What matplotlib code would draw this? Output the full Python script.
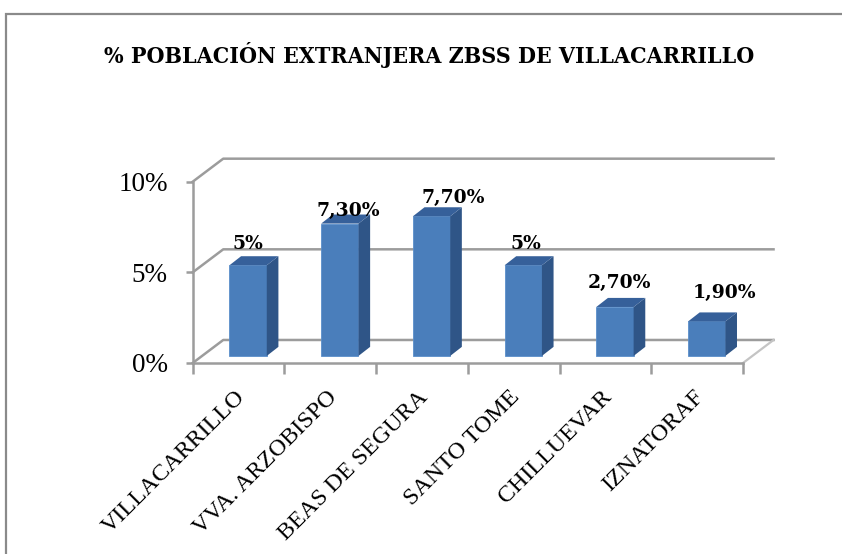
import matplotlib
matplotlib.use('Agg')
from matplotlib import pyplot as plt

# data
categories = ['VILLACARRILLO', 'VVA. ARZOBISPO', 'BEAS DE SEGURA', 'SANTO TOME', 'CHILLUEVAR', 'IZNATORAF']
values = [5, 7.3, 7.7, 5, 2.7, 1.9]
value_labels = ['5%', '7,30%', '7,70%', '5%', '2,70%', '1,90%']
y_ticks = [0, 5, 10]
y_tick_labels = ['0%', '5%', '10%']
title = '% POBLACIÓN EXTRANJERA ZBSS DE VILLACARRILLO'

# where each value label sits relative to its bar top centre, in points
label_dx = [0, 6, 15.5, 2, 3, 13]
label_dy = [15.5, 8.8, 13.3, 15, 17.3, 20.8]

W, H = 842, 554
GRID = '#9c9c9c'

fig = plt.figure(figsize=(W / 100, H / 100), dpi=100)

# frame of the chart, runs off the right and bottom of the picture
bg = fig.add_axes([0, 0, 1, 1])
bg.set_xlim(0, W)
bg.set_ylim(H, 0)
bg.axis('off')
bg.plot([6, 6, W], [H, 14, 14], color='#8a8a8a', lw=1.6, solid_joinstyle='miter')
bg.text(429.5, 55, title, ha='center', va='center', fontsize=16.6, fontweight='bold',
        family='DejaVu Serif', stretch='condensed', color='black')

# front plane of the 3d box: x 192.7-743, y 363-181.7 px
ax = fig.add_axes([192.7 / W, 1 - 363 / H, 550.3 / W, 181.3 / H])
ax.set_xlim(0, 6)
ax.set_ylim(0, 10)
ax.patch.set_visible(False)
for s in ['top', 'right']:
    ax.spines[s].set_visible(False)
for s in ['left', 'bottom']:
    ax.spines[s].set_color(GRID)
    ax.spines[s].set_linewidth(1.8)

# depth of the box, in data units
box_dx = 0.333
box_dy = 1.27

# walls
for t in y_ticks:
    ax.plot([0, box_dx, 6 + box_dx], [t, t + box_dy, t + box_dy], color=GRID, lw=1.8,
            clip_on=False, zorder=1)
ax.plot([6, 6 + box_dx], [0, box_dy], color='#c4c4c4', lw=1.6, clip_on=False, zorder=1)

# bars
bar_w = 0.407
bar_dx = 0.127
bar_dy = 0.5
floor = 0.39
shift = 0.104
xs = [i + 0.5 + shift for i in range(len(values))]

ax.bar(xs, values, width=bar_w, bottom=floor, color='#4a7ebb', edgecolor='#5b8fcb', lw=0.6,
       clip_on=False, zorder=3)
for x, v in zip(xs, values):
    l = x - bar_w / 2
    r = x + bar_w / 2
    top = v + floor
    ax.fill([r, r + bar_dx, r + bar_dx, r], [floor, floor + bar_dy, top + bar_dy, top],
            color='#2f5587', clip_on=False, zorder=3, lw=0)
    ax.fill([l, r, r + bar_dx, l + bar_dx], [top, top, top + bar_dy, top + bar_dy],
            color='#36609a', clip_on=False, zorder=3, lw=0)

# value labels
for x, v, lab, dx, dy in zip(xs, values, value_labels, label_dx, label_dy):
    ax.annotate(lab, (x, v + floor), xytext=(dx, dy), textcoords='offset points', ha='center',
                va='center', fontsize=13.5, fontweight='bold', family='DejaVu Serif',
                color='black', zorder=5, annotation_clip=False)

ax.set_xticks(range(7))
ax.set_xticklabels([])
ax.set_yticks(y_ticks)
ax.set_yticklabels(y_tick_labels, fontsize=19.5, family='Liberation Serif')
ax.tick_params(axis='y', length=5, width=1.8, color=GRID, pad=13)
ax.tick_params(axis='x', length=8, width=1.8, color=GRID, direction='out')

for i, c in enumerate(categories):
    ax.annotate(c, (i + 0.5, 0), xytext=(-3, -17), textcoords='offset points', rotation=45,
                rotation_mode='anchor', ha='right', va='top', fontsize=17.3,
                family='Liberation Serif', color='black', annotation_clip=False)

fig.savefig('out.png', dpi=100)
